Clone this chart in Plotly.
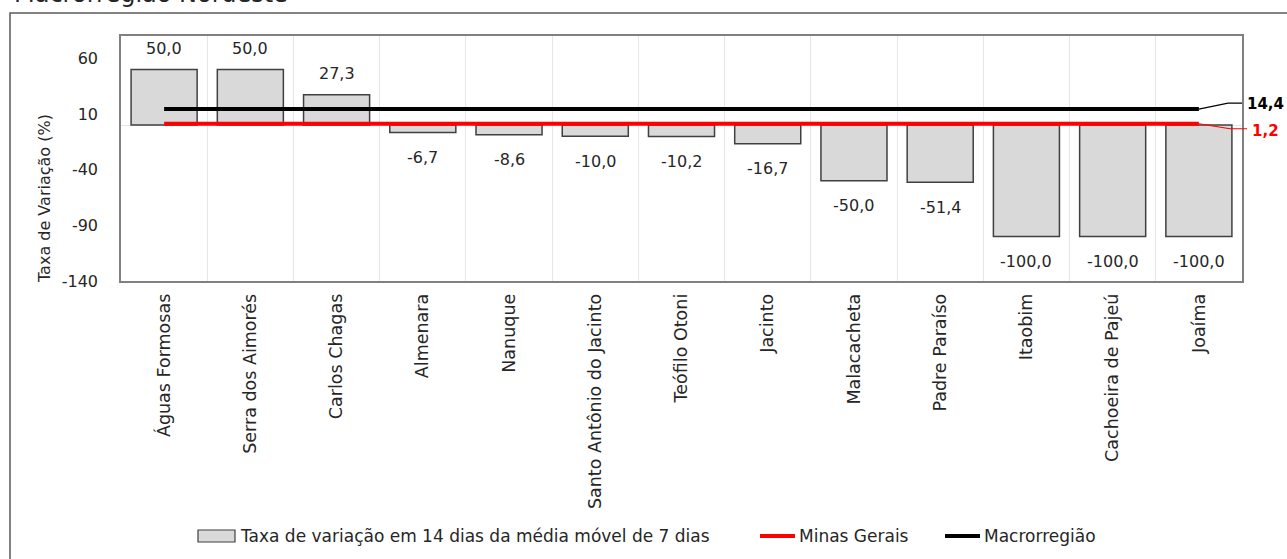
import plotly.graph_objects as go

categories = ["Águas Formosas", "Serra dos Aimorés", "Carlos Chagas", "Almenara", "Nanuque",
              "Santo Antônio do Jacinto", "Teófilo Otoni", "Jacinto", "Malacacheta",
              "Padre Paraíso", "Itaobim", "Cachoeira de Pajeú", "Joaíma"]
taxa = [50.0, 50.0, 27.3, -6.7, -8.6, -10.0, -10.2, -16.7, -50.0, -51.4, -100.0, -100.0, -100.0]
minas_gerais = 1.2
macrorregiao = 14.4
y_ticks = [-140, -90, -40, 10, 60]
y_range = [-140, 80]

title_text = "Macrorregião Nordeste"
y_title = "Taxa de Variação (%)"
bar_name = "Taxa de variação em 14 dias da média móvel de 7 dias"
mg_name = "Minas Gerais"
macro_name = "Macrorregião"

W, H = 1287, 559
PL, PT, PR, PB = 121, 36, 1242, 281  # plot box in pixels
ML, MT, MR, MB = PL, PT, W - PR, H - PB
PW, PH = PR - PL, PB - PT
FONT = "DejaVu Sans"
TXT = "#262626"
BAR_FILL, BAR_LINE = "#d9d9d9", "#404040"
RED, BLACK = "#ff0000", "#000000"


def px_x(p):
    return (p - PL) / PW


def px_y(p):
    return (PB - p) / PH


def val_y(v):
    return (v - y_range[0]) / (y_range[1] - y_range[0])


def fmt(v):
    return f"{v:.1f}".replace(".", ",")


n = len(categories)
fig = go.Figure()
fig.add_trace(go.Bar(
    x=categories, y=taxa, name=bar_name,
    marker=dict(color=BAR_FILL, line=dict(color=BAR_LINE, width=1.5)),
    width=0.766,
))
fig.add_trace(go.Scatter(
    x=categories, y=[minas_gerais] * n, name=mg_name, mode="lines",
    line=dict(color=RED, width=4),
))
fig.add_trace(go.Scatter(
    x=categories, y=[macrorregiao] * n, name=macro_name, mode="lines",
    line=dict(color=BLACK, width=4),
))

annotations = []
for c, v in zip(categories, taxa):
    annotations.append(dict(
        x=c, y=v, xref="x", yref="y", text=fmt(v), showarrow=False,
        yanchor="middle", yshift=21 if v > 0 else -25,
        font=dict(family=FONT, size=16, color=TXT),
    ))

# right-side value labels with leader lines
x_end = (n - 1 + 0.5) / n
yb = val_y(macrorregiao)
yr = val_y(minas_gerais)
shapes = [
    dict(type="path", xref="paper", yref="paper",
         path=f"M {x_end},{yb} L {px_x(1228)},{yb + 6 / PH} L {px_x(1242)},{yb + 6 / PH}",
         line=dict(color=BLACK, width=1.2)),
    dict(type="path", xref="paper", yref="paper",
         path=f"M {x_end},{yr} L {px_x(1230)},{yr - 5 / PH} L {px_x(1247)},{yr - 5 / PH}",
         line=dict(color=RED, width=1.2)),
    # outer chart border
    dict(type="rect", xref="paper", yref="paper",
         x0=px_x(10), y0=px_y(800), x1=px_x(1400), y1=px_y(13),
         line=dict(color="#595959", width=1.5), fillcolor="rgba(0,0,0,0)", layer="below"),
]
annotations.append(dict(
    xref="paper", yref="paper", x=px_x(1245), y=yb + 5 / PH, xanchor="left", yanchor="middle",
    text=f"<b>{fmt(macrorregiao)}</b>", showarrow=False,
    font=dict(family=FONT, size=15, color=BLACK),
))
annotations.append(dict(
    xref="paper", yref="paper", x=px_x(1250), y=yr - 7 / PH, xanchor="left", yanchor="middle",
    text=f"<b>{fmt(minas_gerais)}</b>", showarrow=False,
    font=dict(family=FONT, size=15, color=RED),
))
annotations.append(dict(
    xref="paper", yref="paper", x=px_x(12), y=px_y(10), xanchor="left", yanchor="bottom",
    text=title_text, showarrow=False,
    font=dict(family=FONT, size=24, color="#262626"),
))
annotations.append(dict(
    xref="paper", yref="paper", x=px_x(44), y=px_y(199), xanchor="center", yanchor="middle",
    text=y_title, textangle=-90, showarrow=False,
    font=dict(family=FONT, size=16, color=TXT),
))

# legend drawn by hand (symbols + labels) at the bottom
LY = 536
shapes.append(dict(type="rect", xref="paper", yref="paper",
                   x0=px_x(198), x1=px_x(235), y0=px_y(LY + 6), y1=px_y(LY - 6),
                   fillcolor=BAR_FILL, line=dict(color=BAR_LINE, width=1.2)))
shapes.append(dict(type="line", xref="paper", yref="paper",
                   x0=px_x(760), x1=px_x(795), y0=px_y(LY), y1=px_y(LY),
                   line=dict(color=RED, width=4)))
shapes.append(dict(type="line", xref="paper", yref="paper",
                   x0=px_x(945), x1=px_x(980), y0=px_y(LY), y1=px_y(LY),
                   line=dict(color=BLACK, width=4)))
for name, xpx in [(bar_name, 238), (mg_name, 797), (macro_name, 982)]:
    annotations.append(dict(
        xref="paper", yref="paper", x=px_x(xpx), y=px_y(LY), xanchor="left", yanchor="middle",
        text=name, showarrow=False, font=dict(family=FONT, size=17, color=TXT),
    ))

fig.update_layout(
    width=W, height=H,
    margin=dict(l=ML, r=MR, t=MT, b=MB),
    paper_bgcolor="white", plot_bgcolor="white",
    font=dict(family=FONT, size=15, color=TXT),
    bargap=0.234,
    showlegend=False,
    annotations=annotations,
    shapes=shapes,
)
fig.update_xaxes(
    type="category", tickangle=-90, tickson="boundaries",
    showgrid=True, gridcolor="#e6e6e6", gridwidth=1,
    showline=True, linecolor="#808080", linewidth=1.5, mirror=True,
    ticks="", ticklabelstandoff=4,
    tickfont=dict(family=FONT, size=17.5, color=TXT),
    range=[-0.5, n - 0.5],
)
fig.update_yaxes(
    range=y_range, tickvals=y_ticks, ticktext=[str(t) for t in y_ticks],
    showgrid=False, zeroline=True, zerolinecolor="#e6e6e6", zerolinewidth=1,
    showline=True, linecolor="#808080", linewidth=1.5, mirror=True,
    ticks="", ticklabelstandoff=18,
    tickfont=dict(family=FONT, size=16, color=TXT),
)

fig.write_html("out.html",
               config={"displayModeBar": False},
               post_script="document.body.style.margin='0';document.body.style.overflow='hidden';")
